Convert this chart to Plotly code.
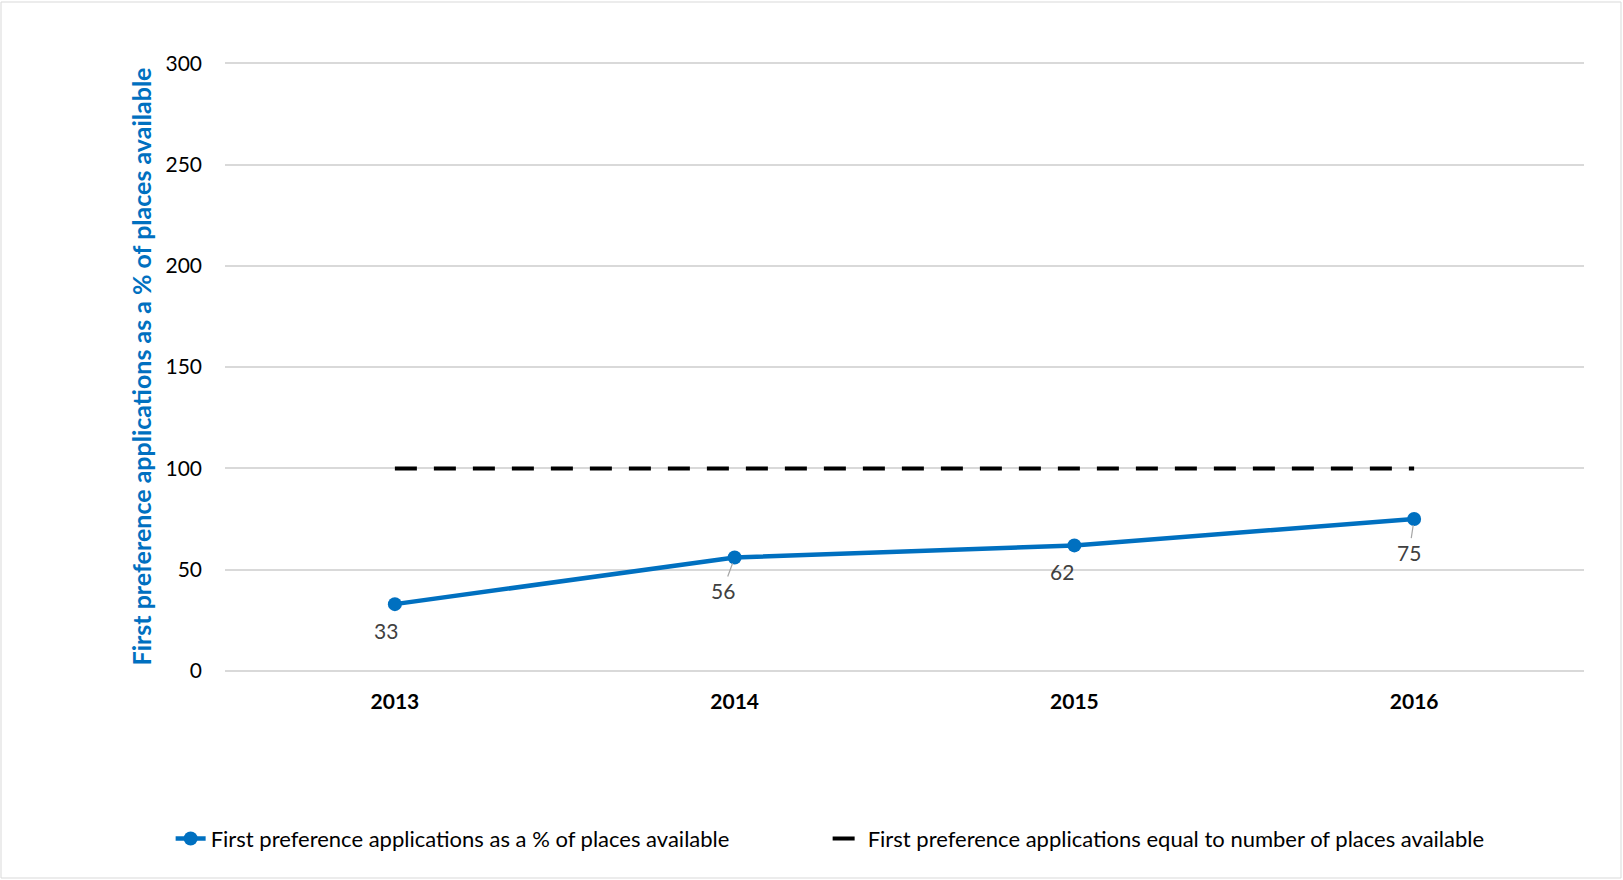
import plotly.graph_objects as go

years = ["2013", "2014", "2015", "2016"]
pct_values = [33, 56, 62, 75]
equal_values = [100, 100, 100, 100]
label_dx = [-9, -12, -12, -5]
label_dy = [26, 33, 26, 33]
show_leader = [False, True, False, True]
y_ticks = [0, 50, 100, 150, 200, 250, 300]

FONT = "Lato"
BLUE = "#0070C0"

fig = go.Figure()
fig.add_trace(go.Scatter(
    x=years, y=pct_values, mode="lines+markers",
    name="First preference applications as a % of places available",
    line=dict(color=BLUE, width=4.5),
    marker=dict(size=14, color=BLUE),
))
fig.add_trace(go.Scatter(
    x=years, y=equal_values, mode="lines",
    name="First preference applications equal to number of places available",
    line=dict(color="black", width=4, dash="22px,17px"),
))

for i, (v, dx, dy, sl) in enumerate(zip(pct_values, label_dx, label_dy, show_leader)):
    fig.add_annotation(
        x=i, y=v, xref="x", yref="y", text=str(v), showarrow=True, arrowhead=0, arrowwidth=1.2,
        arrowcolor="#a6a6a6" if sl else "rgba(255,255,255,0)", ax=dx, ay=dy, standoff=6,
        font=dict(family=FONT, size=21, color="#404040"),
    )

fig.update_layout(
    width=1623, height=880,
    margin=dict(l=225, r=39, t=62, b=209),
    paper_bgcolor="white", plot_bgcolor="white",
    font=dict(family=FONT, size=21, color="black"),
    showlegend=True,
    legend=dict(orientation="h", x=-0.04, xanchor="left", y=-0.241, yanchor="top",
                font=dict(family=FONT, size=22, color="black"),
                entrywidth=612, entrywidthmode="pixels"),
    xaxis=dict(
        type="category", range=[-0.5, 3.5], showgrid=False, showline=False,
        zeroline=False, ticks="", tickfont=dict(family=FONT, size=21, color="black", weight="bold"),
        ticklabelstandoff=16,
    ),
    yaxis=dict(
        range=[0, 300.6], tickvals=y_ticks, showgrid=True, gridcolor="#d9d9d9", gridwidth=1.5,
        zeroline=True, zerolinecolor="#d9d9d9", zerolinewidth=1.5, showline=False, ticks="",
        tickfont=dict(family=FONT, size=21, color="black"), ticklabelstandoff=22,
        title=dict(text="First preference applications as a % of places available",
                   font=dict(family=FONT, size=25, color=BLUE, weight="bold"), standoff=6),
    ),
)

fig.add_shape(type="rect", xref="paper", yref="paper",
              x0=-224 / 1359, x1=1 + 37 / 1359, y0=-207 / 609, y1=1 + 60 / 609,
              line=dict(color="#d9d9d9", width=1))

fig.write_html("out.html", post_script="document.body.style.margin='0';",
               config={"displayModeBar": False})
